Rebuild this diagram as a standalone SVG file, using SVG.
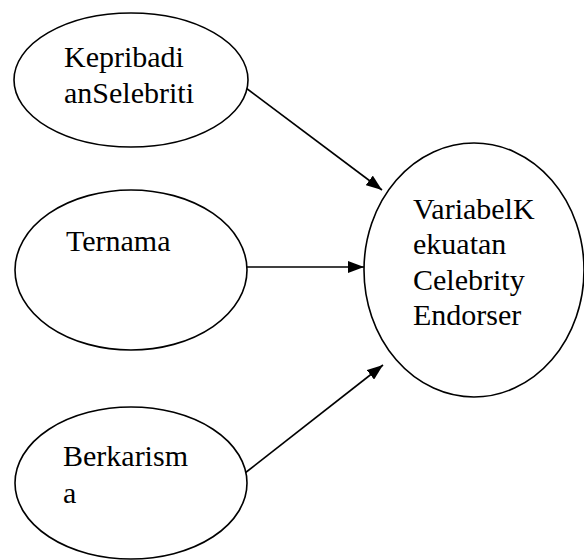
<svg xmlns="http://www.w3.org/2000/svg" width="584" height="560" viewBox="0 0 584 560">
  <style>
    .node { fill: #ffffff; stroke: #000000; stroke-width: 1.6; }
    .label { font-family: 'Liberation Serif', 'Times New Roman', Times, 'DejaVu Serif', serif; font-size: 30px; fill: #000000; }
    .edge { stroke: #000000; stroke-width: 1.6; fill: none; marker-end: url(#arrow); }
  </style>
  <defs>
    <marker id="arrow" viewBox="0 0 16 12" refX="16" refY="6" markerWidth="16" markerHeight="12" markerUnits="userSpaceOnUse" orient="auto">
      <path d="M0,0 L16,6 L0,12 z" fill="#000000"/>
    </marker>
  </defs>

  <g id="connectors">
    <line class="edge" x1="246" y1="88" x2="382" y2="190"/>
    <line class="edge" x1="247" y1="267" x2="364" y2="267"/>
    <line class="edge" x1="245" y1="473" x2="383" y2="365"/>
  </g>

  <g id="kepribadian">
    <ellipse class="node" cx="131" cy="80" rx="117" ry="67"/>
    <text class="label" x="64" y="67">Kepribadi</text>
    <text class="label" x="64" y="103">anSelebriti</text>
  </g>

  <g id="ternama">
    <ellipse class="node" cx="131" cy="270" rx="116" ry="80"/>
    <text class="label" x="66" y="251">Ternama</text>
  </g>

  <g id="berkarisma">
    <ellipse class="node" cx="131" cy="483" rx="116" ry="76"/>
    <text class="label" x="63" y="466">Berkarism</text>
    <text class="label" x="63" y="503">a</text>
  </g>

  <g id="kekuatan">
    <ellipse class="node" cx="474" cy="270" rx="110" ry="127"/>
    <text class="label" x="413" y="219">VariabelK</text>
    <text class="label" x="413" y="254">ekuatan</text>
    <text class="label" x="413" y="290">Celebrity</text>
    <text class="label" x="413" y="325">Endorser</text>
  </g>
</svg>
